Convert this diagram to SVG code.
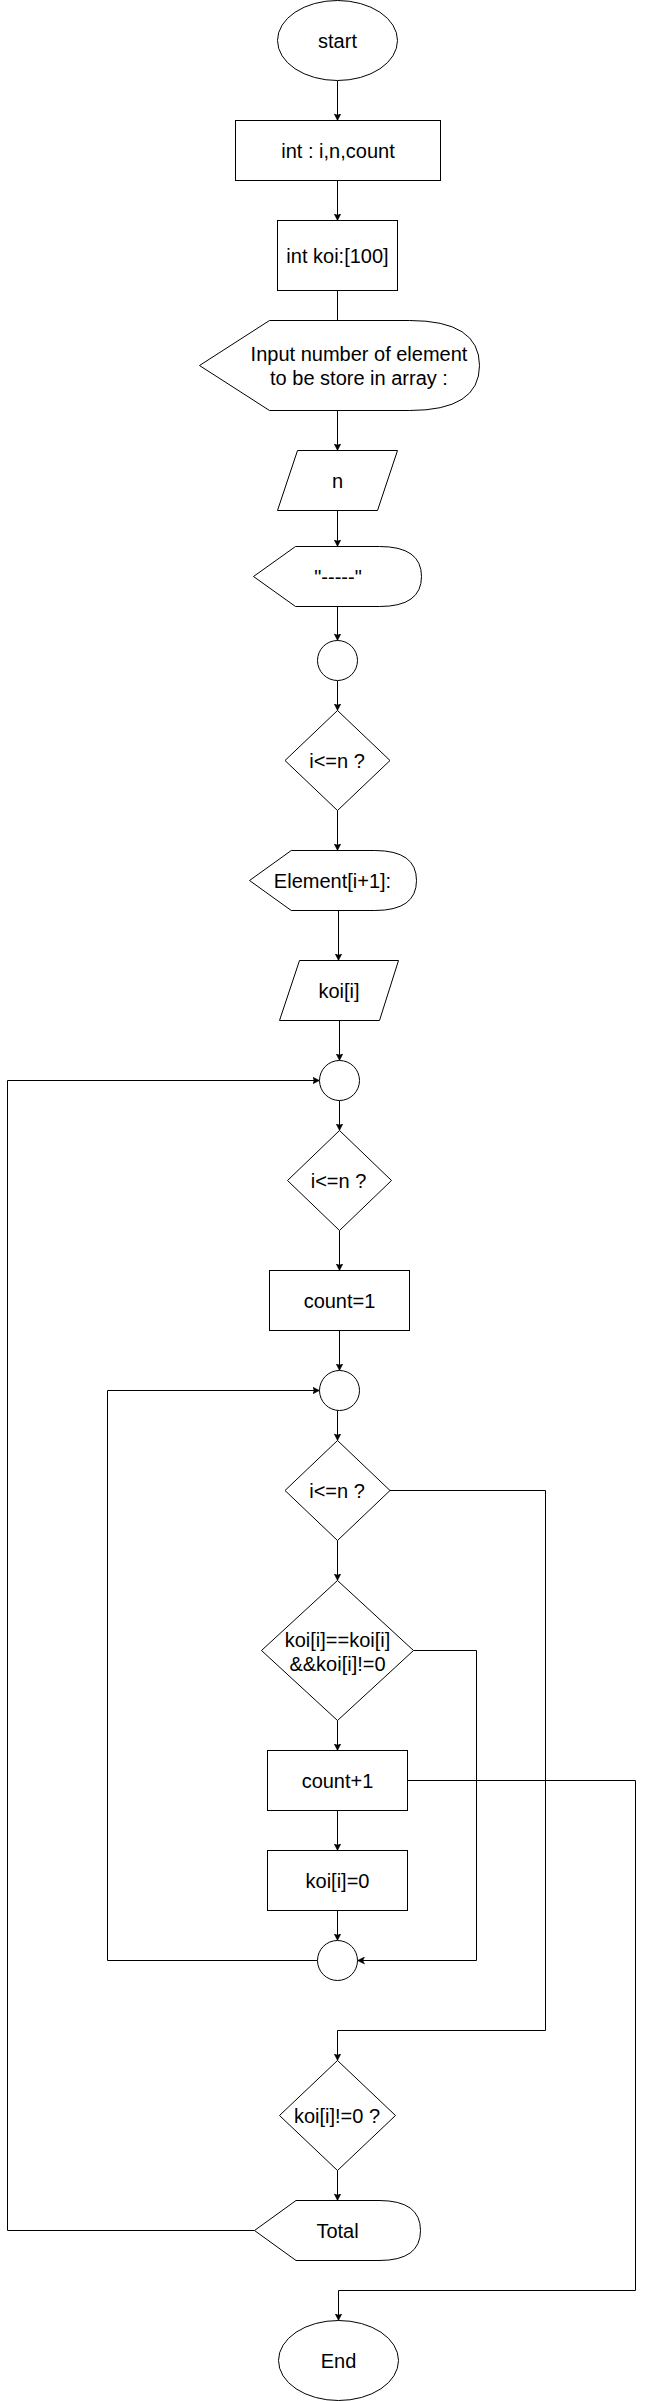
<svg xmlns="http://www.w3.org/2000/svg" width="646" height="2401" viewBox="0 0 646 2401">
<style>
.s{fill:#fff;stroke:#000;stroke-width:1}
.t{font-family:"Liberation Sans",Arial,sans-serif;font-size:20px;fill:#000;text-anchor:middle}
.e{fill:none;stroke:#000;stroke-width:1}
.a{marker-end:url(#arr)}
</style>
<defs>
<marker id="arr" markerUnits="userSpaceOnUse" markerWidth="8" markerHeight="8" viewBox="0 0 8 8" refX="7" refY="4" orient="auto">
<path d="M0,0.5 L7,4 L0,7.5 L1.75,4 Z" fill="#000" stroke="#000" stroke-width="0.5"/>
</marker>
</defs>
<rect width="646" height="2401" fill="#fff"/>
<g id="connectors">
<path class="e a" d="M337.5 80.5 V120.5"/>
<path class="e a" d="M337.5 180.5 V220.5"/>
<path class="e" d="M337.5 290.5 V320.5"/>
<path class="e a" d="M337.5 410.5 V450.5"/>
<path class="e a" d="M337.5 510.5 V546.5"/>
<path class="e a" d="M337.5 606.5 V640.5"/>
<path class="e a" d="M337.5 680.5 V710.5"/>
<path class="e a" d="M337.5 810.5 V850.5"/>
<path class="e a" d="M338.5 910.5 V960.5"/>
<path class="e a" d="M339.5 1020.5 V1060.5"/>
<path class="e a" d="M339.5 1100.5 V1130.5"/>
<path class="e a" d="M339.5 1230.5 V1270.5"/>
<path class="e a" d="M339.5 1330.5 V1370.5"/>
<path class="e a" d="M337.5 1410.5 V1440.5"/>
<path class="e a" d="M337.5 1540.5 V1580.5"/>
<path class="e a" d="M337.5 1720.5 V1750.5"/>
<path class="e a" d="M337.5 1810.5 V1850.5"/>
<path class="e a" d="M337.5 1910.5 V1940.5"/>
<path class="e a" d="M337.5 2170.5 V2200.5"/>
<path class="e a" d="M254.5 2230.5 H7.5 V1080.5 H319.5"/>
<path class="e a" d="M317.5 1960.5 H107.5 V1390.5 H319.5"/>
<path class="e a" d="M413.5 1650.5 H476.5 V1960.5 H357.5"/>
<path class="e a" d="M390 1490.5 H545.5 V2030.5 H337.5 V2060.5"/>
<path class="e a" d="M407.5 1780.5 H635.5 V2290.5 H338.5 V2320.5"/>
</g>
<g id="start">
<ellipse class="s" cx="337.5" cy="40.5" rx="60" ry="40"/>
<text class="t" x="337.5" y="47.5">start</text>
</g>
<g id="decl-vars">
<rect class="s" x="235.5" y="120.5" width="205" height="60"/>
<text class="t" x="338" y="157.5">int : i,n,count</text>
</g>
<g id="decl-array">
<rect class="s" x="277.5" y="220.5" width="120" height="70"/>
<text class="t" x="337.5" y="262.5">int koi:[100]</text>
</g>
<g id="prompt-n">
<path class="s" d="M199.5 365.5 L269.5 320.5 L409.5 320.5 Q479.5 320.5 479.5 365.5 Q479.5 410.5 409.5 410.5 L269.5 410.5 Z"/>
<text class="t" x="359" y="360.5">Input number of element</text>
<text class="t" x="359" y="384.5">to be store in array :</text>
</g>
<g id="input-n">
<path class="s" d="M297.5 450.5 L397.5 450.5 L377.5 510.5 L277.5 510.5 Z"/>
<text class="t" x="337.5" y="487.5">n</text>
</g>
<g id="display-dashes">
<path class="s" d="M253.5 576.5 L295.5 546.5 L379.5 546.5 Q421.5 546.5 421.5 576.5 Q421.5 606.5 379.5 606.5 L295.5 606.5 Z"/>
<text class="t" x="338" y="583.5">"-----"</text>
</g>
<g id="connector-0">
<circle class="s" cx="337.5" cy="660.5" r="20"/>
</g>
<g id="cond-1">
<path class="s" d="M337.5 710.5 L390 760.5 L337.5 810.5 L285 760.5 Z"/>
<text class="t" x="337" y="767.5">i&lt;=n ?</text>
</g>
<g id="prompt-element">
<path class="s" d="M249.5 880.5 L291.25 850.5 L374.75 850.5 Q416.5 850.5 416.5 880.5 Q416.5 910.5 374.75 910.5 L291.25 910.5 Z"/>
<text class="t" x="332.5" y="887.5">Element[i+1]:</text>
</g>
<g id="input-koi">
<path class="s" d="M299.5 960.5 L398.5 960.5 L379.5 1020.5 L279.5 1020.5 Z"/>
<text class="t" x="339" y="997.5">koi[i]</text>
</g>
<g id="connector-1">
<circle class="s" cx="339.5" cy="1080.5" r="20"/>
</g>
<g id="cond-2">
<path class="s" d="M339.5 1130.5 L391.5 1180.5 L339.5 1230.5 L287.5 1180.5 Z"/>
<text class="t" x="338.5" y="1187.5">i&lt;=n ?</text>
</g>
<g id="count-init">
<rect class="s" x="269.5" y="1270.5" width="140" height="60"/>
<text class="t" x="339.5" y="1307.5">count=1</text>
</g>
<g id="connector-2">
<circle class="s" cx="339.5" cy="1390.5" r="20"/>
</g>
<g id="cond-3">
<path class="s" d="M337.5 1440.5 L390 1490.5 L337.5 1540.5 L285 1490.5 Z"/>
<text class="t" x="337" y="1497.5">i&lt;=n ?</text>
</g>
<g id="cond-4">
<path class="s" d="M337.5 1580.5 L413.5 1650.5 L337.5 1720.5 L261.5 1650.5 Z"/>
<text class="t" x="337.5" y="1646.5">koi[i]==koi[i]</text>
<text class="t" x="337.5" y="1670.5">&amp;&amp;koi[i]!=0</text>
</g>
<g id="count-inc">
<rect class="s" x="267.5" y="1750.5" width="140" height="60"/>
<text class="t" x="337.5" y="1787.5">count+1</text>
</g>
<g id="koi-zero">
<rect class="s" x="267.5" y="1850.5" width="140" height="60"/>
<text class="t" x="337.5" y="1887.5">koi[i]=0</text>
</g>
<g id="connector-3">
<circle class="s" cx="337.5" cy="1960.5" r="20"/>
</g>
<g id="cond-5">
<path class="s" d="M337.5 2060.5 L395.5 2115.5 L337.5 2170.5 L279.5 2115.5 Z"/>
<text class="t" x="337" y="2122.5">koi[i]!=0 ?</text>
</g>
<g id="display-total">
<path class="s" d="M254.5 2230.5 L296 2200.5 L379 2200.5 Q420.5 2200.5 420.5 2230.5 Q420.5 2260.5 379 2260.5 L296 2260.5 Z"/>
<text class="t" x="337.5" y="2237.5">Total</text>
</g>
<g id="end">
<ellipse class="s" cx="338.5" cy="2360.5" rx="60" ry="40"/>
<text class="t" x="338.5" y="2367.5">End</text>
</g>
</svg>
